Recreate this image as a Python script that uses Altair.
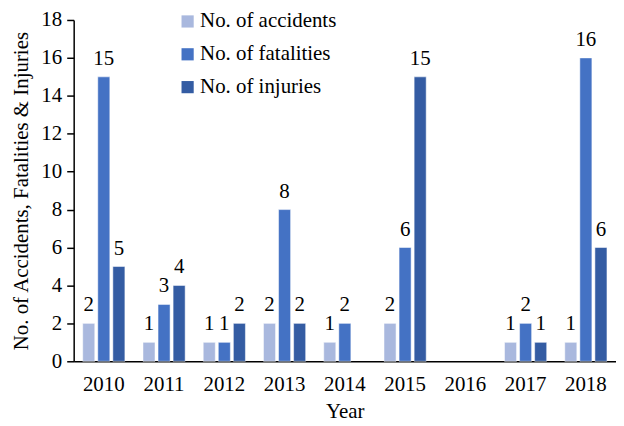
import altair as alt
import pandas as pd

years = ["2010", "2011", "2012", "2013", "2014", "2015", "2016", "2017", "2018"]
accidents = [2, 1, 1, 2, 1, 2, 0, 1, 1]
fatalities = [15, 3, 1, 8, 2, 6, 0, 2, 16]
injuries = [5, 4, 2, 2, 0, 15, 0, 1, 6]
series = ["No. of accidents", "No. of fatalities", "No. of injuries"]
colors = ["#a9b8de", "#4472c4", "#345ca3"]

rows = []
for i, y in enumerate(years):
    for s, vals in zip(series, [accidents, fatalities, injuries]):
        rows.append({"Year": y, "Series": s, "Value": vals[i]})
df = pd.DataFrame(rows)

FONT = "Liberation Serif, Times New Roman, serif"
FS = 21

base = alt.Chart(df).transform_filter(alt.datum.Value > 0).encode(
    x=alt.X("Year:N", sort=years,
            scale=alt.Scale(domain=years, paddingInner=0.3, paddingOuter=0.15),
            axis=alt.Axis(title="Year", labelAngle=0, ticks=False, labelPadding=12,
                          titlePadding=6)),
    xOffset=alt.XOffset("Series:N", sort=series,
                        scale=alt.Scale(domain=series, paddingInner=0.2, paddingOuter=0)),
    y=alt.Y("Value:Q", scale=alt.Scale(domain=[0, 18], nice=False),
            axis=alt.Axis(title="No. of Accidents, Fatalities & Injuries",
                          values=list(range(0, 19, 2)), tickCount=10, grid=False,
                          tickSize=7, labelOverlap=False, labelPadding=5,
                          titlePadding=9)),
)

bars = base.mark_bar(stroke="white", strokeWidth=0.5).encode(
    color=alt.Color("Series:N", sort=series,
                    scale=alt.Scale(domain=series, range=colors),
                    legend=alt.Legend(title=None, orient="none", legendX=104, legendY=-9,
                                      symbolType="square", symbolSize=150,
                                      symbolStrokeWidth=0, labelFontSize=FS,
                                      labelFont=FONT, rowPadding=11, labelLimit=300,
                                      labelOffset=2, labelColor="black")),
)

labels = base.mark_text(
    baseline="bottom", dy=-8, fontSize=FS, font=FONT, color="black"
).encode(
    text=alt.Text("Value:Q"),
)

chart = (bars + labels).properties(
    width=545, height=343,
    autosize=alt.AutoSizeParams(type="none"),
    padding={"left": 66, "top": 11, "right": 0, "bottom": 62},
).configure_view(stroke=None).configure_axis(
    labelFont=FONT, titleFont=FONT, labelFontSize=FS, titleFontSize=FS,
    labelColor="black", titleColor="black", domainColor="black", tickColor="black",
    titleFontWeight="normal", domainWidth=1.5, tickWidth=1.5
)

chart.save("out.html", embed_options={"renderer": "svg", "actions": False})
